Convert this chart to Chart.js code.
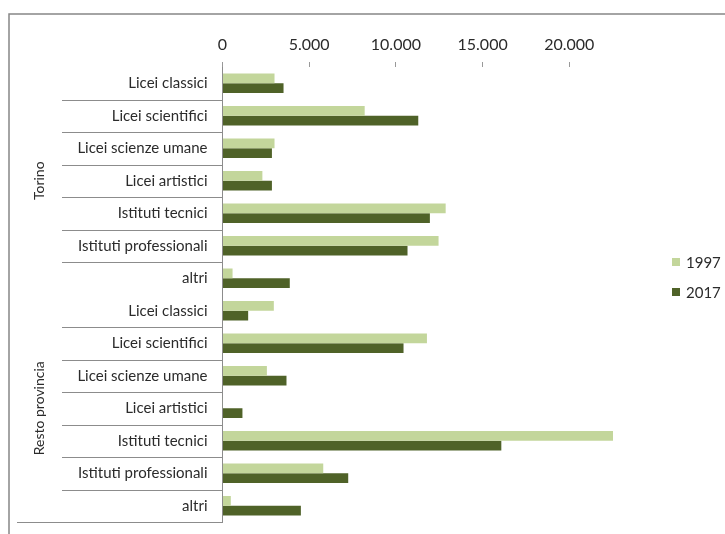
<!DOCTYPE html>
<html>
<head>
<meta charset="utf-8">
<script src="https://cdn.jsdelivr.net/npm/chart.js@4"></script>
<style>
  html, body { margin: 0; padding: 0; background: #fff; overflow: hidden; }
  #wrap { width: 725px; height: 534px; position: relative; }
</style>
</head>
<body>
<div id="wrap"><canvas id="chartContainer" width="725" height="534"></canvas></div>
<script>
const groups = ['Torino', 'Resto provincia'];
const categories = ['Licei classici', 'Licei scientifici', 'Licei scienze umane', 'Licei artistici',
    'Istituti tecnici', 'Istituti professionali', 'altri'];
const years = ['1997', '2017'];
// Torino (7) then Resto provincia (7)
const values1997 = [3000, 8200, 3000, 2300, 12870, 12460, 580, 2960, 11790, 2560, 20, 22520, 5810, 480];
const values2017 = [3520, 11290, 2850, 2850, 11960, 10670, 3880, 1480, 10440, 3690, 1150, 16080, 7250, 4520];
const tickValues = [0, 5000, 10000, 15000, 20000];

const colors = ['#c3d69b', '#4f6228'];
const labelFont = "Lato, 'Open Sans', sans-serif";

const labels = groups.flatMap(() => categories);

function fmt(v) {
    return String(v).replace(/\B(?=(\d{3})+(?!\d))/g, '.');
}

// border, category separators, group labels, legend
const decorations = {
    id: 'decorations',
    beforeDraw(chart) {
        const ctx = chart.ctx;
        ctx.save();
        ctx.strokeStyle = '#878787';
        ctx.lineWidth = 1.5;
        ctx.beginPath();
        ctx.moveTo(9, 540);
        ctx.lineTo(9, 14);
        ctx.lineTo(730, 14);
        ctx.stroke();
        ctx.restore();
    },
    afterDraw(chart) {
        const ctx = chart.ctx;
        const area = chart.chartArea;
        const n = labels.length;
        const step = (area.bottom - area.top) / n;
        const per = categories.length;

        ctx.save();
        ctx.strokeStyle = '#8c8c8c';
        ctx.lineWidth = 1;
        for (let i = 1; i < n; i++) {
            if (i % per === 0) continue;
            const py = Math.round(area.top + i * step) + 0.5;
            ctx.beginPath();
            ctx.moveTo(62, py);
            ctx.lineTo(area.left, py);
            ctx.stroke();
        }
        const by = Math.round(area.bottom) + 0.5;
        ctx.beginPath();
        ctx.moveTo(17, by);
        ctx.lineTo(area.left, by);
        ctx.stroke();

        // group labels
        ctx.fillStyle = '#2b2b2b';
        ctx.font = '14px ' + labelFont;
        ctx.textAlign = 'center';
        ctx.textBaseline = 'middle';
        groups.forEach((g, gi) => {
            const cy = area.top + (gi * per + per / 2) * step;
            ctx.save();
            ctx.translate(39, cy);
            ctx.rotate(-Math.PI / 2);
            ctx.fillText(g, 0, 0);
            ctx.restore();
        });

        // legend
        ctx.font = '15px ' + labelFont;
        ctx.textAlign = 'left';
        chart.data.datasets.forEach((ds, i) => {
            const ly = 262 + i * 30;
            ctx.fillStyle = ds.backgroundColor;
            ctx.fillRect(672, ly - 4, 8, 8);
            ctx.fillStyle = '#2b2b2b';
            ctx.fillText(ds.label, 686, ly + 1);
        });
        ctx.restore();
    }
};

const ctx = document.getElementById('chartContainer').getContext('2d');

let chart = new Chart(ctx, {
    type: 'bar',
    data: {
        labels: labels,
        datasets: [{
            label: years[0],
            data: values1997,
            backgroundColor: colors[0],
            borderWidth: 0,
            categoryPercentage: 0.6,
            barPercentage: 1
        }, {
            label: years[1],
            data: values2017,
            backgroundColor: colors[1],
            borderWidth: 0,
            categoryPercentage: 0.6,
            barPercentage: 1
        }]
    },
    options: {
        indexAxis: 'y',
        responsive: false,
        animation: false,
        layout: {
            padding: { top: 20, right: 69, bottom: 12, left: 0 }
        },
        plugins: {
            legend: { display: false },
            tooltip: { enabled: false }
        },
        scales: {
            x: {
                position: 'top',
                min: 0,
                max: 25000,
                afterBuildTicks(scale) {
                    scale.ticks = tickValues.map(v => ({ value: v }));
                },
                afterFit(scale) {
                    scale.height = 47;
                },
                grid: {
                    drawOnChartArea: false,
                    drawTicks: true,
                    tickLength: 5,
                    color: '#999'
                },
                border: { display: false },
                ticks: {
                    padding: 8,
                    color: '#2b2b2b',
                    font: { family: labelFont, size: 16 },
                    callback: v => fmt(v)
                }
            },
            y: {
                afterFit(scale) {
                    scale.width = 222.5;
                    scale.paddingTop = 0;
                    scale.paddingBottom = 0;
                },
                grid: {
                    drawOnChartArea: false,
                    drawTicks: false
                },
                border: { display: true, color: '#8c8c8c', width: 1 },
                ticks: {
                    padding: 15,
                    color: '#2b2b2b',
                    autoSkip: false,
                    font: { family: labelFont, size: 15 }
                }
            }
        }
    },
    plugins: [decorations]
});
</script>
</body>
</html>
